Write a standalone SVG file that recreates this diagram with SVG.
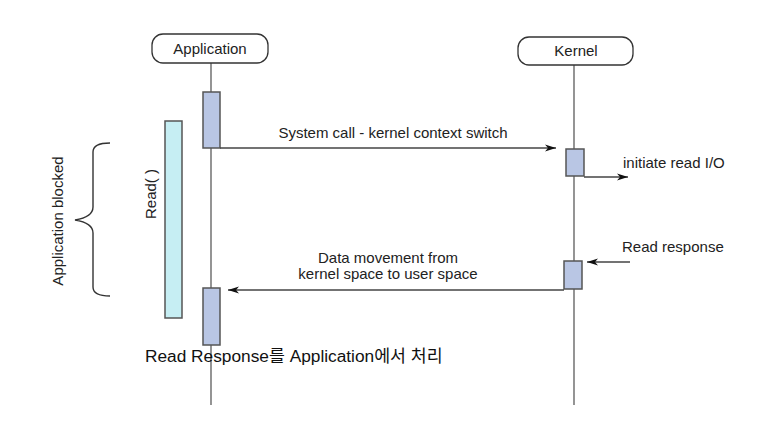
<svg xmlns="http://www.w3.org/2000/svg" width="769" height="444" viewBox="0 0 769 444">
<style>
.t{font-family:"Liberation Sans",Arial,sans-serif;font-size:15px;fill:#222}
.life{stroke:#7a7a7a;stroke-width:1.6;fill:none}
.act{fill:#b9c6e4;stroke:#555;stroke-width:1.5}
.head{fill:#fff;stroke:#333;stroke-width:1.3}
.msg{stroke:#444;stroke-width:1.5;fill:none;marker-end:url(#ah)}
</style>
<defs>
<marker id="ah" markerWidth="12" markerHeight="8" refX="11" refY="4" orient="auto" markerUnits="userSpaceOnUse">
<path d="M0,0.5 L11,4 L0,7.5 L3,4 Z" fill="#111"/>
</marker>
</defs>
<rect width="769" height="444" fill="#fff"/>
<g id="application">
<line class="life" x1="211" y1="63" x2="211" y2="405"/>
<rect class="head" x="152" y="34" width="116" height="29" rx="11"/>
<text class="t" x="210" y="54" text-anchor="middle">Application</text>
<rect class="act" x="203" y="92" width="17" height="56"/>
<rect class="act" x="203" y="288" width="17" height="57"/>
</g>
<g id="kernel">
<line class="life" x1="574" y1="65" x2="574" y2="405"/>
<rect class="head" x="518" y="37" width="115" height="28" rx="11"/>
<text class="t" x="576" y="56" text-anchor="middle">Kernel</text>
<rect class="act" x="566" y="149" width="18" height="27"/>
<rect class="act" x="564" y="261" width="18" height="28"/>
</g>
<g id="read-bar">
<rect x="165" y="121" width="17" height="197" fill="#c6eef3" stroke="#555" stroke-width="1.5"/>
<text class="t" transform="translate(156,194) rotate(-90)" text-anchor="middle">Read( )</text>
</g>
<g id="blocked">
<path d="M110,143 Q93,143 93,152 L93,207 Q93,217 75,220 Q93,223 93,233 L93,287 Q93,296 110,296" fill="none" stroke="#333" stroke-width="1.4"/>
<text class="t" transform="translate(63,221) rotate(-90)" text-anchor="middle">Application blocked</text>
</g>
<g id="connectors">
<line class="msg" x1="220" y1="148" x2="556" y2="148"/>
<line class="msg" x1="584" y1="177" x2="628" y2="177"/>
<line class="msg" x1="630" y1="262" x2="587" y2="262"/>
<line class="msg" x1="564" y1="290" x2="228" y2="290"/>
</g>
<g id="labels">
<text class="t" x="393" y="138" text-anchor="middle">System call - kernel context switch</text>
<text class="t" x="623" y="168">initiate read I/O</text>
<text class="t" x="622" y="252">Read response</text>
<text class="t" x="388" y="263" text-anchor="middle">Data movement from</text>
<text class="t" x="388" y="279" text-anchor="middle">kernel space to user space</text>
<text x="145" y="362" style="font-family:'Liberation Sans','Noto Sans CJK KR',sans-serif;font-size:17.3px;fill:#111">Read Response를 Application에서 처리</text>
</g>
</svg>
